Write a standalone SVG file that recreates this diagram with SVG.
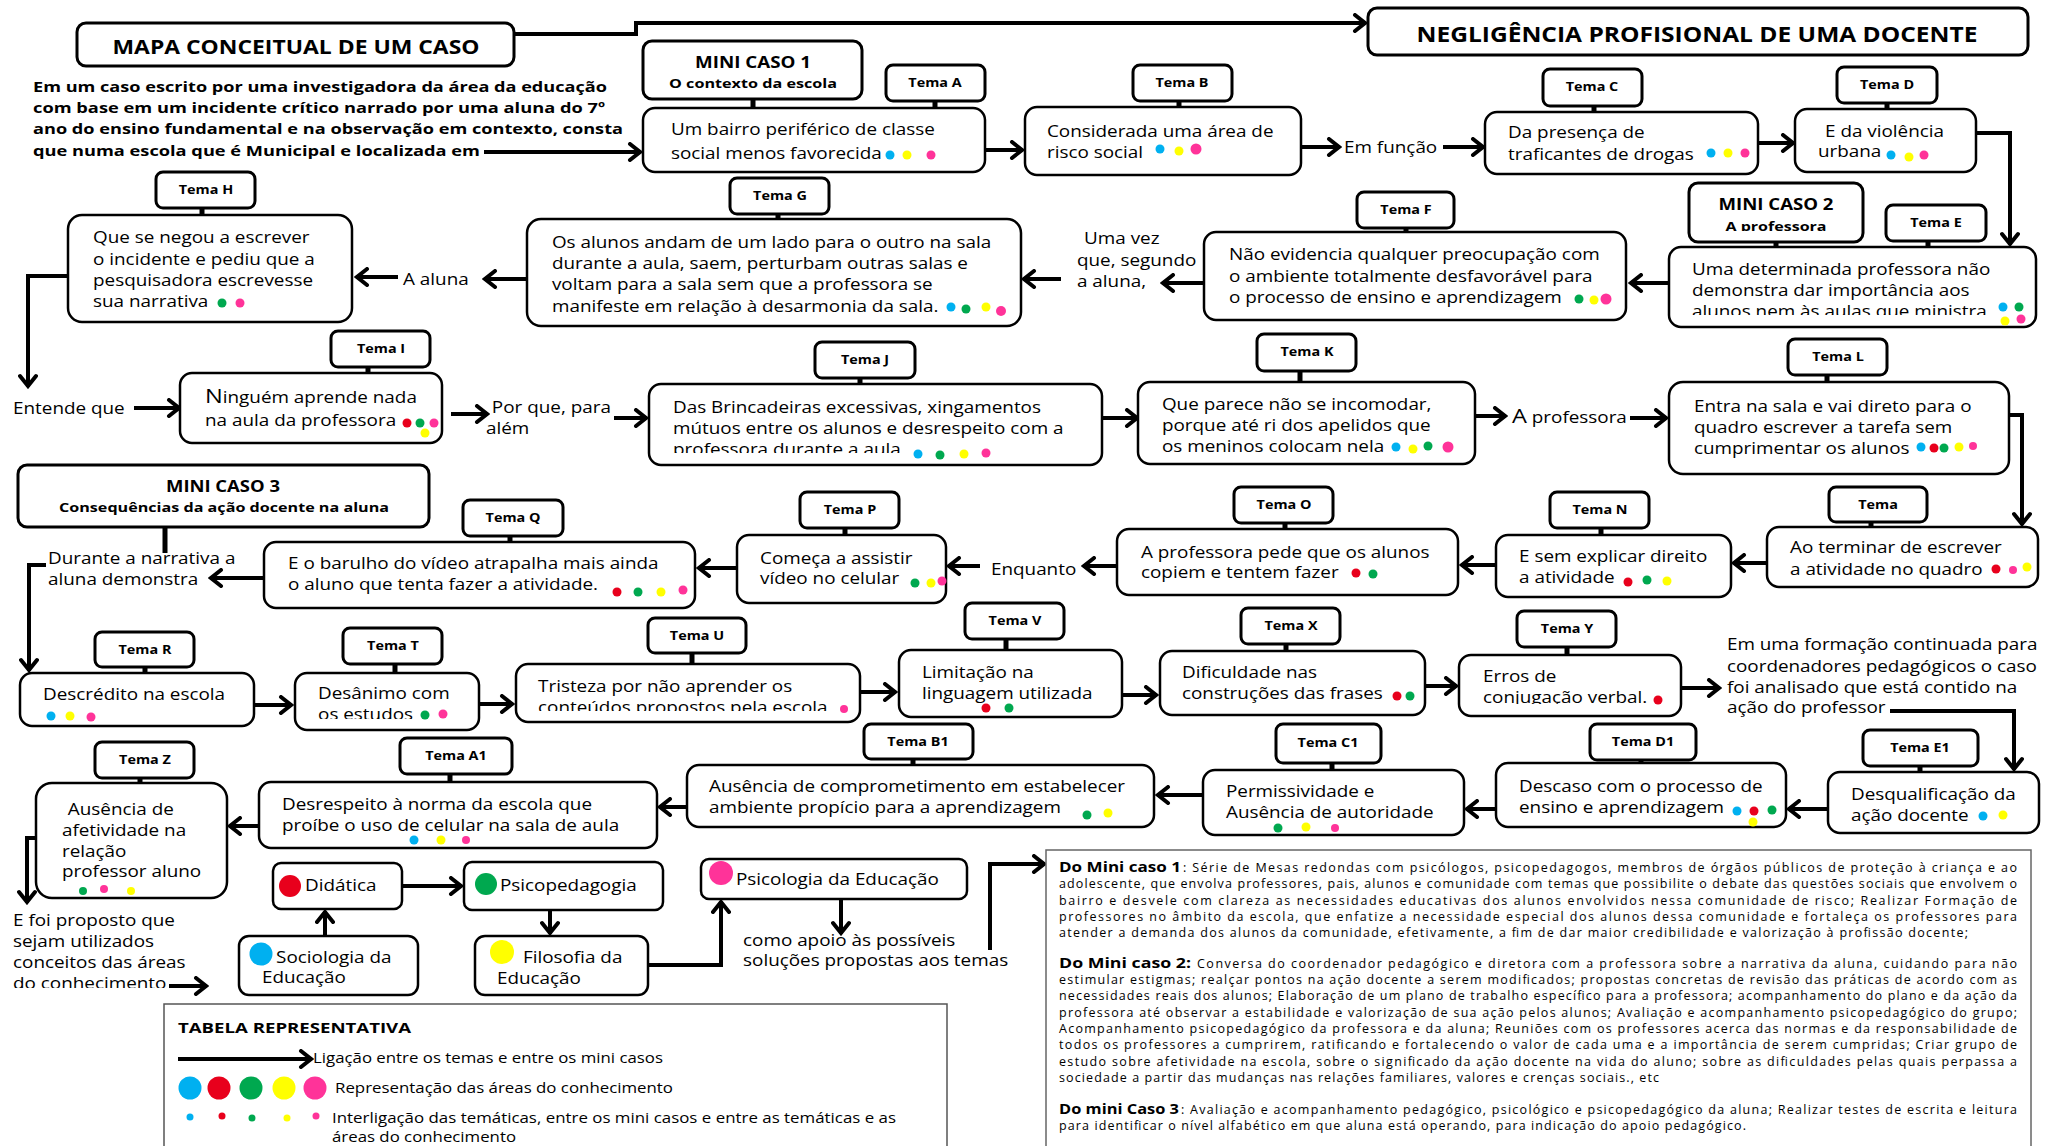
<svg xmlns="http://www.w3.org/2000/svg" width="2056" height="1146" viewBox="0 0 2056 1146">
<style>
text{font-family:"Open Sans","Noto Sans",Lato,sans-serif;fill:#000}
.tx{font-size:16px}
.b{font-weight:bold}
.lt{font-size:12px;font-weight:bold;text-anchor:middle}
.mc{font-size:16.5px;font-weight:bold;text-anchor:middle}
.ms{font-size:13px;font-weight:bold;text-anchor:middle}
.nd{fill:#fff;stroke:#000;stroke-width:2.5}
.lb{fill:#fff;stroke:#000;stroke-width:3}
.ar{fill:#fff;stroke:#000;stroke-width:2.5}
.c{fill:none;stroke:#000;stroke-width:4}
.a{marker-end:url(#ah)}
.s{stroke:#000;stroke-width:5}
.p{font-size:12.5px}
.ph{font-size:15px;font-weight:bold}
.lg{font-size:14px}
.bx{fill:#fff;stroke:#666;stroke-width:1.5}
.bl{fill:#00b0f0}.rd{fill:#e8001c}.gr{fill:#00a84f}.ye{fill:#ffff00}.pk{fill:#ff3399}
</style>
<defs>
<marker id="ah" viewBox="0 0 16 20" refX="14" refY="10" markerWidth="16" markerHeight="20" markerUnits="userSpaceOnUse" orient="auto">
<path d="M3,2 L13,10 L3,18" fill="none" stroke="#000" stroke-width="4" stroke-linecap="round"/>
</marker>
<clipPath id="cE"><rect x="1669" y="247" width="367" height="68"/></clipPath>
<clipPath id="cJ"><rect x="649" y="384" width="453" height="69"/></clipPath>
<clipPath id="cT"><rect x="295" y="673" width="184" height="46"/></clipPath>
<clipPath id="cU"><rect x="516" y="664" width="344" height="47"/></clipPath>
<clipPath id="cY"><rect x="1459" y="655" width="222" height="49"/></clipPath>
<clipPath id="cM2"><rect x="1689" y="183" width="174" height="48"/></clipPath>
<clipPath id="cDo"><rect x="0" y="900" width="200" height="88"/></clipPath>
</defs>
<rect width="2056" height="1146" fill="#fff"/>

<!-- connectors -->
<g id="connectors">
<path class="c a" d="M514,34 H636 V23 H1366"/>
<path class="c a" d="M484,152 H641"/>
<path class="c a" d="M985,150 H1023"/>
<path class="c a" d="M1301,147 H1340"/>
<path class="c a" d="M1443,147 H1484"/>
<path class="c a" d="M1758,143 H1794"/>
<path class="c a" d="M1976,133 H2010 V245"/>
<path class="c a" d="M1669,283 H1630"/>
<path class="c a" d="M1204,283 H1162"/>
<path class="c a" d="M1061,279 H1023"/>
<path class="c a" d="M527,279 H484"/>
<path class="c a" d="M398,277 H356"/>
<path class="c a" d="M68,276 H28 V387"/>
<path class="c a" d="M134,408 H180"/>
<path class="c a" d="M451,414 H488"/>
<path class="c a" d="M614,418 H647"/>
<path class="c a" d="M1102,418 H1138"/>
<path class="c a" d="M1475,416 H1506"/>
<path class="c a" d="M1630,418 H1667"/>
<path class="c a" d="M2009,415 H2022 V525"/>
<path class="c a" d="M1767,563 H1733"/>
<path class="c a" d="M1496,565 H1461"/>
<path class="c a" d="M1117,566 H1083"/>
<path class="c a" d="M980,566 H948"/>
<path class="c a" d="M737,568 H698"/>
<path class="c a" d="M264,578 H210"/>
<path class="c" d="M165,527 V553" style="stroke-width:5"/>
<path class="c a" d="M46,565 H29 V671"/>
<path class="c a" d="M254,705 H292"/>
<path class="c a" d="M479,704 H513"/>
<path class="c a" d="M860,692 H896"/>
<path class="c a" d="M1122,695 H1157"/>
<path class="c a" d="M1425,686 H1457"/>
<path class="c a" d="M1681,688 H1720"/>
<path class="c a" d="M1890,711 H2014 V770"/>
<path class="c a" d="M1828,809 H1788"/>
<path class="c a" d="M1496,809 H1466"/>
<path class="c a" d="M1203,795 H1157"/>
<path class="c a" d="M687,807 H659"/>
<path class="c a" d="M259,826 H229"/>
<path class="c a" d="M36,838 H27 V903"/>
<path class="c a" d="M169,986 H207"/>
<path class="c a" d="M402,886 H462"/>
<path class="c a" d="M550,910 V934"/>
<path class="c a" d="M325,936 V911"/>
<path class="c a" d="M648,965 H721 V901"/>
<path class="c a" d="M841,899 V934"/>
<path class="c a" d="M990,950 V864 H1045"/>
<!-- label stubs -->
<path class="s" d="M753,99 V108 M935,101 V108 M1179,101 V107 M1594,106 V112 M1887,103 V109 M1776,242 V247 M1928,241 V247 M1406,228 V232 M778,214 V219 M202,208 V215 M368,367 V373 M860,378 V384 M1300,371 V382 M1827,375 V382 M1871,522 V527 M1601,528 V535 M1285,523 V529 M845,528 V535 M510,536 V542 M145,667 V673 M395,664 V673 M692,653 V664 M1006,639 V650 M1286,644 V651 M1567,647 V655 M1920,766 V772 M1641,760 V763 M1332,763 V770 M913,759 V765 M450,774 V782 M140,778 V783"/>
</g>

<!-- headings -->
<g id="titulo">
<rect x="77" y="23" width="437" height="43" rx="9" class="lb"/>
<text x="296" y="54" class="b" font-size="20" text-anchor="middle" textLength="367" lengthAdjust="spacingAndGlyphs">MAPA CONCEITUAL DE UM CASO</text>
</g>
<g id="negligencia">
<rect x="1368" y="8" width="660" height="47" rx="9" class="lb"/>
<text x="1697" y="42" class="b" font-size="21" text-anchor="middle" textLength="561" lengthAdjust="spacingAndGlyphs">NEGLIGÊNCIA PROFISIONAL DE UMA DOCENTE</text>
</g>
<g id="introducao">
<text x="33" y="92" class="b" font-size="15" textLength="574" lengthAdjust="spacingAndGlyphs">Em um caso escrito por uma investigadora da área da educação</text>
<text x="33" y="113" class="b" font-size="15" textLength="572" lengthAdjust="spacingAndGlyphs">com base em um incidente crítico narrado por uma aluna do 7º</text>
<text x="33" y="134" class="b" font-size="15" textLength="590" lengthAdjust="spacingAndGlyphs">ano do ensino fundamental e na observação em contexto, consta</text>
<text x="33" y="156" class="b" font-size="15" textLength="447" lengthAdjust="spacingAndGlyphs">que numa escola que é Municipal e localizada em</text>
</g>

<!-- mini casos -->
<g id="mini-caso-1">
<rect x="643" y="41" width="219" height="58" rx="9" class="lb"/>
<text x="753" y="68" class="mc" textLength="116" lengthAdjust="spacingAndGlyphs">MINI CASO 1</text>
<text x="753" y="88" class="ms" textLength="168" lengthAdjust="spacingAndGlyphs">O contexto da escola</text>
</g>
<g id="mini-caso-2">
<rect x="1689" y="183" width="174" height="59" rx="9" class="lb"/>
<text x="1776" y="210" class="mc" textLength="115" lengthAdjust="spacingAndGlyphs">MINI CASO 2</text>
<text x="1776" y="231" class="ms" textLength="101" lengthAdjust="spacingAndGlyphs" clip-path="url(#cM2)">A professora</text>
</g>
<g id="mini-caso-3">
<rect x="18" y="465" width="411" height="62" rx="9" class="lb"/>
<text x="223" y="492" class="mc" textLength="114" lengthAdjust="spacingAndGlyphs">MINI CASO 3</text>
<text x="224" y="512" class="ms" font-size="14" textLength="330" lengthAdjust="spacingAndGlyphs">Consequências da ação docente na aluna</text>
</g>

<!-- tema labels -->
<g id="tema-a"><rect x="886" y="65" width="99" height="36" rx="7" class="lb"/><text x="935" y="87" class="lt" transform="matrix(1.2 0 0 1 -187 0)">Tema A</text></g>
<g id="tema-b"><rect x="1133" y="65" width="99" height="36" rx="7" class="lb"/><text x="1182" y="87" class="lt" transform="matrix(1.2 0 0 1 -236.4 0)">Tema B</text></g>
<g id="tema-c"><rect x="1543" y="69" width="99" height="37" rx="7" class="lb"/><text x="1592" y="91" class="lt" transform="matrix(1.2 0 0 1 -318.4 0)">Tema C</text></g>
<g id="tema-d"><rect x="1837" y="67" width="100" height="36" rx="7" class="lb"/><text x="1887" y="89" class="lt" transform="matrix(1.2 0 0 1 -377.4 0)">Tema D</text></g>
<g id="tema-e"><rect x="1886" y="205" width="100" height="36" rx="7" class="lb"/><text x="1936" y="227" class="lt" transform="matrix(1.2 0 0 1 -387.2 0)">Tema E</text></g>
<g id="tema-f"><rect x="1357" y="192" width="97" height="36" rx="7" class="lb"/><text x="1406" y="214" class="lt" transform="matrix(1.2 0 0 1 -281.2 0)">Tema F</text></g>
<g id="tema-g"><rect x="730" y="178" width="99" height="36" rx="7" class="lb"/><text x="780" y="200" class="lt" transform="matrix(1.2 0 0 1 -156 0)">Tema G</text></g>
<g id="tema-h"><rect x="156" y="172" width="99" height="36" rx="7" class="lb"/><text x="206" y="194" class="lt" transform="matrix(1.2 0 0 1 -41.2 0)">Tema H</text></g>
<g id="tema-i"><rect x="331" y="331" width="99" height="36" rx="7" class="lb"/><text x="381" y="353" class="lt" transform="matrix(1.2 0 0 1 -76.2 0)">Tema I</text></g>
<g id="tema-j"><rect x="815" y="342" width="100" height="36" rx="7" class="lb"/><text x="865" y="364" class="lt" transform="matrix(1.2 0 0 1 -173 0)">Tema J</text></g>
<g id="tema-k"><rect x="1257" y="334" width="99" height="37" rx="7" class="lb"/><text x="1307" y="356" class="lt" transform="matrix(1.2 0 0 1 -261.4 0)">Tema K</text></g>
<g id="tema-l"><rect x="1788" y="339" width="99" height="36" rx="7" class="lb"/><text x="1838" y="361" class="lt" transform="matrix(1.2 0 0 1 -367.6 0)">Tema L</text></g>
<g id="tema-m"><rect x="1829" y="487" width="98" height="35" rx="7" class="lb"/><text x="1878" y="509" class="lt" transform="matrix(1.2 0 0 1 -375.6 0)">Tema</text></g>
<g id="tema-n"><rect x="1550" y="492" width="99" height="36" rx="7" class="lb"/><text x="1600" y="514" class="lt" transform="matrix(1.2 0 0 1 -320 0)">Tema N</text></g>
<g id="tema-o"><rect x="1234" y="487" width="99" height="36" rx="7" class="lb"/><text x="1284" y="509" class="lt" transform="matrix(1.2 0 0 1 -256.8 0)">Tema O</text></g>
<g id="tema-p"><rect x="800" y="492" width="99" height="36" rx="7" class="lb"/><text x="850" y="514" class="lt" transform="matrix(1.2 0 0 1 -170 0)">Tema P</text></g>
<g id="tema-q"><rect x="463" y="500" width="100" height="36" rx="7" class="lb"/><text x="513" y="522" class="lt" transform="matrix(1.2 0 0 1 -102.6 0)">Tema Q</text></g>
<g id="tema-r"><rect x="95" y="632" width="99" height="35" rx="7" class="lb"/><text x="145" y="654" class="lt" transform="matrix(1.2 0 0 1 -29 0)">Tema R</text></g>
<g id="tema-t"><rect x="343" y="628" width="99" height="36" rx="7" class="lb"/><text x="393" y="650" class="lt" transform="matrix(1.2 0 0 1 -78.6 0)">Tema T</text></g>
<g id="tema-u"><rect x="648" y="618" width="98" height="35" rx="7" class="lb"/><text x="697" y="640" class="lt" transform="matrix(1.2 0 0 1 -139.4 0)">Tema U</text></g>
<g id="tema-v"><rect x="965" y="603" width="99" height="36" rx="7" class="lb"/><text x="1015" y="625" class="lt" transform="matrix(1.2 0 0 1 -203 0)">Tema V</text></g>
<g id="tema-x"><rect x="1241" y="608" width="99" height="36" rx="7" class="lb"/><text x="1291" y="630" class="lt" transform="matrix(1.2 0 0 1 -258.2 0)">Tema X</text></g>
<g id="tema-y"><rect x="1517" y="611" width="99" height="36" rx="7" class="lb"/><text x="1567" y="633" class="lt" transform="matrix(1.2 0 0 1 -313.4 0)">Tema Y</text></g>
<g id="tema-e1"><rect x="1863" y="730" width="115" height="36" rx="7" class="lb"/><text x="1920" y="752" class="lt" transform="matrix(1.2 0 0 1 -384 0)">Tema E1</text></g>
<g id="tema-d1"><rect x="1590" y="724" width="106" height="36" rx="7" class="lb"/><text x="1643" y="746" class="lt" transform="matrix(1.2 0 0 1 -328.6 0)">Tema D1</text></g>
<g id="tema-c1"><rect x="1276" y="724" width="105" height="39" rx="7" class="lb"/><text x="1328" y="747" class="lt" transform="matrix(1.2 0 0 1 -265.6 0)">Tema C1</text></g>
<g id="tema-b1"><rect x="864" y="724" width="109" height="35" rx="7" class="lb"/><text x="918" y="746" class="lt" transform="matrix(1.2 0 0 1 -183.6 0)">Tema B1</text></g>
<g id="tema-a1"><rect x="400" y="738" width="112" height="36" rx="7" class="lb"/><text x="456" y="760" class="lt" transform="matrix(1.2 0 0 1 -91.2 0)">Tema A1</text></g>
<g id="tema-z"><rect x="95" y="742" width="99" height="36" rx="7" class="lb"/><text x="145" y="764" class="lt" transform="matrix(1.2 0 0 1 -29 0)">Tema Z</text></g>

<!-- theme nodes (node text is drawn 1.18x wide, anchored at its left edge) -->
<g id="node-a">
<rect x="643" y="108" width="342" height="64" rx="12" class="nd"/>
<text class="tx" transform="matrix(1.18 0 0 1 -120.8 0)"><tspan x="671" y="135">Um bairro periférico de classe</tspan><tspan x="671" y="159">social menos favorecida</tspan></text>
<circle cx="890" cy="155" r="4.5" class="bl"/><circle cx="907" cy="155" r="4.5" class="ye"/><circle cx="931" cy="155" r="4.5" class="pk"/>
</g>
<g id="node-b">
<rect x="1025" y="107" width="276" height="68" rx="12" class="nd"/>
<text class="tx" transform="matrix(1.18 0 0 1 -188.5 0)"><tspan x="1047" y="137">Considerada uma área de</tspan><tspan x="1047" y="158">risco social</tspan></text>
<circle cx="1160" cy="149" r="4.5" class="bl"/><circle cx="1179" cy="151" r="4.5" class="ye"/><circle cx="1196" cy="149" r="5.5" class="pk"/>
</g>
<text x="1344" y="153" class="tx" transform="matrix(1.18 0 0 1 -241.9 0)">Em função</text>
<g id="node-c">
<rect x="1485" y="112" width="273" height="62" rx="12" class="nd"/>
<text class="tx" transform="matrix(1.18 0 0 1 -271.4 0)"><tspan x="1508" y="138">Da presença de</tspan><tspan x="1508" y="160">traficantes de drogas</tspan></text>
<circle cx="1711" cy="153" r="4.5" class="bl"/><circle cx="1728" cy="153" r="4.5" class="ye"/><circle cx="1745" cy="153" r="4.5" class="pk"/>
</g>
<g id="node-d">
<rect x="1795" y="109" width="181" height="63" rx="12" class="nd"/>
<text class="tx" transform="matrix(1.18 0 0 1 -328.5 0)"><tspan x="1825" y="137">E da violência</tspan><tspan x="1819" y="157">urbana</tspan></text>
<circle cx="1891" cy="155" r="4.5" class="bl"/><circle cx="1909" cy="157" r="4.5" class="ye"/><circle cx="1924" cy="155" r="4.5" class="pk"/>
</g>
<g id="node-e">
<rect x="1669" y="247" width="367" height="80" rx="12" class="nd"/>
<text class="tx" clip-path="url(#cE)" transform="matrix(1.18 0 0 1 -304.6 0)"><tspan x="1692" y="275">Uma determinada professora não</tspan><tspan x="1692" y="296">demonstra dar importância aos</tspan><tspan x="1692" y="317">alunos nem às aulas que ministra</tspan></text>
<circle cx="2003" cy="307" r="4.5" class="bl"/><circle cx="2019" cy="307" r="4.5" class="gr"/><circle cx="2005" cy="321" r="4.5" class="ye"/><circle cx="2021" cy="319" r="4.5" class="pk"/>
</g>
<g id="node-f">
<rect x="1204" y="232" width="422" height="88" rx="12" class="nd"/>
<text class="tx" transform="matrix(1.18 0 0 1 -221.2 0)"><tspan x="1229" y="260">Não evidencia qualquer preocupação com</tspan><tspan x="1229" y="282">o ambiente totalmente desfavorável para</tspan><tspan x="1229" y="303">o processo de ensino e aprendizagem</tspan></text>
<circle cx="1579" cy="299" r="4.5" class="gr"/><circle cx="1594" cy="300" r="4.5" class="ye"/><circle cx="1606" cy="299" r="5.5" class="pk"/>
</g>
<text class="tx" transform="matrix(1.18 0 0 1 -193.9 0)"><tspan x="1083" y="244">Uma vez</tspan><tspan x="1077" y="266">que, segundo</tspan><tspan x="1077" y="287">a aluna,</tspan></text>
<g id="node-g">
<rect x="527" y="219" width="494" height="107" rx="14" class="nd"/>
<text class="tx" transform="matrix(1.18 0 0 1 -99.4 0)"><tspan x="552" y="248">Os alunos andam de um lado para o outro na sala</tspan><tspan x="552" y="269">durante a aula, saem, perturbam outras salas e</tspan><tspan x="552" y="290">voltam para a sala sem que a professora se</tspan><tspan x="552" y="312">manifeste em relação à desarmonia da sala.</tspan></text>
<circle cx="951" cy="307" r="4.5" class="bl"/><circle cx="966" cy="309" r="4.5" class="gr"/><circle cx="986" cy="307" r="4.5" class="ye"/><circle cx="1001" cy="311" r="5" class="pk"/>
</g>
<text x="403" y="285" class="tx" transform="matrix(1.18 0 0 1 -72.5 0)">A aluna</text>
<g id="node-h">
<rect x="68" y="215" width="284" height="107" rx="14" class="nd"/>
<text class="tx" transform="matrix(1.18 0 0 1 -16.7 0)"><tspan x="93" y="243">Que se negou a escrever</tspan><tspan x="93" y="265">o incidente e pediu que a</tspan><tspan x="93" y="286">pesquisadora escrevesse</tspan><tspan x="93" y="307">sua narrativa</tspan></text>
<circle cx="222" cy="303" r="4.5" class="gr"/><circle cx="240" cy="303" r="4.5" class="pk"/>
</g>
<text x="13" y="414" class="tx" transform="matrix(1.18 0 0 1 -2.3 0)">Entende que</text>
<g id="node-i">
<rect x="180" y="373" width="262" height="70" rx="12" class="nd"/>
<text class="tx" transform="matrix(1.18 0 0 1 -36.9 0)"><tspan x="205" y="403"><tspan font-size="20">N</tspan>inguém aprende nada</tspan><tspan x="205" y="426">na aula da professora</tspan></text>
<circle cx="407" cy="423" r="4.5" class="rd"/><circle cx="420" cy="423" r="4.5" class="gr"/><circle cx="434" cy="423" r="4.5" class="pk"/><circle cx="425" cy="433" r="4.5" class="ye"/>
</g>
<text class="tx" transform="matrix(1.18 0 0 1 -87.5 0)"><tspan x="491" y="413">Por que, para</tspan><tspan x="486" y="434">além</tspan></text>
<g id="node-j">
<rect x="649" y="384" width="453" height="81" rx="12" class="nd"/>
<text class="tx" clip-path="url(#cJ)" transform="matrix(1.18 0 0 1 -121.1 0)"><tspan x="673" y="413">Das Brincadeiras excessivas, xingamentos</tspan><tspan x="673" y="434">mútuos entre os alunos e desrespeito com a</tspan><tspan x="673" y="455">professora durante a aula</tspan></text>
<circle cx="918" cy="454" r="4.5" class="bl"/><circle cx="940" cy="455" r="4.5" class="gr"/><circle cx="964" cy="454" r="4.5" class="ye"/><circle cx="986" cy="453" r="4.5" class="pk"/>
</g>
<g id="node-k">
<rect x="1138" y="382" width="337" height="82" rx="12" class="nd"/>
<text class="tx" transform="matrix(1.18 0 0 1 -209.2 0)"><tspan x="1162" y="410">Que parece não se incomodar,</tspan><tspan x="1162" y="431">porque até ri dos apelidos que</tspan><tspan x="1162" y="452">os meninos colocam nela</tspan></text>
<circle cx="1396" cy="447" r="4.5" class="bl"/><circle cx="1413" cy="449" r="4.5" class="ye"/><circle cx="1428" cy="446" r="4.5" class="gr"/><circle cx="1448" cy="447" r="5.5" class="pk"/>
</g>
<text x="1512" y="423" class="tx" transform="matrix(1.18 0 0 1 -272.2 0)"><tspan font-size="20">A</tspan> professora</text>
<g id="node-l">
<rect x="1669" y="382" width="340" height="92" rx="14" class="nd"/>
<text class="tx" transform="matrix(1.18 0 0 1 -304.9 0)"><tspan x="1694" y="412">Entra na sala e vai direto para o</tspan><tspan x="1694" y="433">quadro escrever a tarefa sem</tspan><tspan x="1694" y="454">cumprimentar os alunos</tspan></text>
<circle cx="1921" cy="447" r="4.5" class="bl"/><circle cx="1934" cy="448" r="4.5" class="rd"/><circle cx="1944" cy="448" r="4.5" class="gr"/><circle cx="1959" cy="447" r="4.5" class="ye"/><circle cx="1973" cy="446" r="4" class="pk"/>
</g>
<g id="node-m">
<rect x="1767" y="527" width="271" height="60" rx="12" class="nd"/>
<text class="tx" transform="matrix(1.18 0 0 1 -322.2 0)"><tspan x="1790" y="553">Ao terminar de escrever</tspan><tspan x="1790" y="575">a atividade no quadro</tspan></text>
<circle cx="1996" cy="569" r="4.5" class="rd"/><circle cx="2013" cy="570" r="4" class="pk"/><circle cx="2027" cy="567" r="4.5" class="ye"/>
</g>
<g id="node-n">
<rect x="1496" y="535" width="235" height="62" rx="12" class="nd"/>
<text class="tx" transform="matrix(1.18 0 0 1 -273.4 0)"><tspan x="1519" y="562">E sem explicar direito</tspan><tspan x="1519" y="583">a atividade</tspan></text>
<circle cx="1628" cy="582" r="4.5" class="rd"/><circle cx="1647" cy="580" r="4.5" class="gr"/><circle cx="1667" cy="581" r="4.5" class="ye"/>
</g>
<g id="node-o">
<rect x="1117" y="529" width="341" height="66" rx="12" class="nd"/>
<text class="tx" transform="matrix(1.18 0 0 1 -205.4 0)"><tspan x="1141" y="558">A professora pede que os alunos</tspan><tspan x="1141" y="578">copiem e tentem fazer</tspan></text>
<circle cx="1356" cy="573" r="4.5" class="rd"/><circle cx="1373" cy="574" r="4.5" class="gr"/>
</g>
<text x="991" y="575" class="tx" transform="matrix(1.18 0 0 1 -178.4 0)">Enquanto</text>
<g id="node-p">
<rect x="737" y="535" width="209" height="68" rx="12" class="nd"/>
<text class="tx" transform="matrix(1.18 0 0 1 -136.8 0)"><tspan x="760" y="564">Começa a assistir</tspan><tspan x="760" y="584">vídeo no celular</tspan></text>
<circle cx="915" cy="583" r="4.5" class="gr"/><circle cx="931" cy="583" r="4.5" class="ye"/><circle cx="942" cy="581" r="4.5" class="pk"/>
</g>
<g id="node-q">
<rect x="264" y="542" width="431" height="66" rx="12" class="nd"/>
<text class="tx" transform="matrix(1.18 0 0 1 -51.8 0)"><tspan x="288" y="569">E o barulho do vídeo atrapalha mais ainda</tspan><tspan x="288" y="590">o aluno que tenta fazer a atividade.</tspan></text>
<circle cx="617" cy="592" r="4.5" class="rd"/><circle cx="638" cy="592" r="4.5" class="gr"/><circle cx="661" cy="592" r="4.5" class="ye"/><circle cx="683" cy="590" r="4.5" class="pk"/>
</g>
<text class="tx" transform="matrix(1.18 0 0 1 -8.6 0)"><tspan x="48" y="564">Durante a narrativa a</tspan><tspan x="48" y="585">aluna demonstra</tspan></text>
<g id="node-r">
<rect x="20" y="673" width="234" height="53" rx="12" class="nd"/>
<text x="43" y="700" class="tx" transform="matrix(1.18 0 0 1 -7.7 0)">Descrédito na escola</text>
<circle cx="51" cy="716" r="4.5" class="bl"/><circle cx="70" cy="716" r="4.5" class="ye"/><circle cx="91" cy="717" r="4.5" class="pk"/>
</g>
<g id="node-t">
<rect x="295" y="673" width="184" height="57" rx="12" class="nd"/>
<text class="tx" clip-path="url(#cT)" transform="matrix(1.18 0 0 1 -57.2 0)"><tspan x="318" y="699">Desânimo com</tspan><tspan x="318" y="720">os estudos</tspan></text>
<circle cx="425" cy="715" r="4.5" class="gr"/><circle cx="443" cy="714" r="4.5" class="pk"/>
</g>
<g id="node-u">
<rect x="516" y="664" width="344" height="58" rx="12" class="nd"/>
<text class="tx" clip-path="url(#cU)" transform="matrix(1.18 0 0 1 -96.8 0)"><tspan x="538" y="692">Tristeza por não aprender os</tspan><tspan x="538" y="713">conteúdos propostos pela escola</tspan></text>
<circle cx="844" cy="709" r="4" class="pk"/>
</g>
<g id="node-v">
<rect x="899" y="650" width="223" height="67" rx="12" class="nd"/>
<text class="tx" transform="matrix(1.18 0 0 1 -166 0)"><tspan x="922" y="678">Limitação na</tspan><tspan x="922" y="699">linguagem utilizada</tspan></text>
<circle cx="986" cy="708" r="4.5" class="rd"/><circle cx="1009" cy="708" r="4.5" class="gr"/>
</g>
<g id="node-x">
<rect x="1160" y="651" width="265" height="64" rx="12" class="nd"/>
<text class="tx" transform="matrix(1.18 0 0 1 -212.8 0)"><tspan x="1182" y="678">Dificuldade nas</tspan><tspan x="1182" y="699">construções das frases</tspan></text>
<circle cx="1397" cy="696" r="4.5" class="rd"/><circle cx="1410" cy="696" r="4.5" class="gr"/>
</g>
<g id="node-y">
<rect x="1459" y="655" width="222" height="61" rx="12" class="nd"/>
<text class="tx" clip-path="url(#cY)" transform="matrix(1.18 0 0 1 -266.9 0)"><tspan x="1483" y="682">Erros de</tspan><tspan x="1483" y="703">conjugação verbal.</tspan></text>
<circle cx="1658" cy="700" r="4.5" class="rd"/>
</g>
<text class="tx" transform="matrix(1.18 0 0 1 -310.9 0)"><tspan x="1727" y="650">Em uma formação continuada para</tspan><tspan x="1727" y="672">coordenadores pedagógicos o caso</tspan><tspan x="1727" y="693">foi analisado que está contido na</tspan><tspan x="1727" y="713">ação do professor</tspan></text>
<g id="node-e1">
<rect x="1828" y="772" width="211" height="61" rx="12" class="nd"/>
<text class="tx" transform="matrix(1.18 0 0 1 -333.2 0)"><tspan x="1851" y="800">Desqualificação da</tspan><tspan x="1851" y="821">ação docente</tspan></text>
<circle cx="1983" cy="816" r="4.5" class="bl"/><circle cx="2003" cy="815" r="4.5" class="ye"/>
</g>
<g id="node-d1">
<rect x="1496" y="763" width="290" height="64" rx="12" class="nd"/>
<text class="tx" transform="matrix(1.18 0 0 1 -273.4 0)"><tspan x="1519" y="792">Descaso com o processo de</tspan><tspan x="1519" y="813">ensino e aprendizagem</tspan></text>
<circle cx="1737" cy="811" r="4.5" class="bl"/><circle cx="1754" cy="811" r="4.5" class="rd"/><circle cx="1772" cy="810" r="4.5" class="gr"/><circle cx="1753" cy="822" r="4.5" class="ye"/>
</g>
<g id="node-c1">
<rect x="1203" y="770" width="261" height="65" rx="12" class="nd"/>
<text class="tx" transform="matrix(1.18 0 0 1 -220.7 0)"><tspan x="1226" y="797">Permissividade e</tspan><tspan x="1226" y="818">Ausência de autoridade</tspan></text>
<circle cx="1278" cy="828" r="4.5" class="gr"/><circle cx="1306" cy="827" r="4.5" class="ye"/><circle cx="1335" cy="828" r="4" class="pk"/>
</g>
<g id="node-b1">
<rect x="687" y="765" width="467" height="62" rx="12" class="nd"/>
<text class="tx" transform="matrix(1.18 0 0 1 -127.6 0)"><tspan x="709" y="792">Ausência de comprometimento em estabelecer</tspan><tspan x="709" y="813">ambiente propício para a aprendizagem</tspan></text>
<circle cx="1087" cy="815" r="4.5" class="gr"/><circle cx="1108" cy="813" r="4.5" class="ye"/>
</g>
<g id="node-a1">
<rect x="259" y="782" width="398" height="66" rx="12" class="nd"/>
<text class="tx" transform="matrix(1.18 0 0 1 -50.8 0)"><tspan x="282" y="810">Desrespeito à norma da escola que</tspan><tspan x="282" y="831">proíbe o uso de celular na sala de aula</tspan></text>
<circle cx="414" cy="840" r="4.5" class="bl"/><circle cx="441" cy="840" r="4.5" class="ye"/><circle cx="466" cy="840" r="4" class="pk"/>
</g>
<g id="node-z">
<rect x="36" y="783" width="191" height="115" rx="16" class="nd"/>
<text class="tx" transform="matrix(1.18 0 0 1 -11.2 0)"><tspan x="67" y="815">Ausência de</tspan><tspan x="62" y="836">afetividade na</tspan><tspan x="62" y="857">relação</tspan><tspan x="62" y="877">professor aluno</tspan></text>
<circle cx="83" cy="891" r="4" class="gr"/><circle cx="104" cy="889" r="4" class="pk"/><circle cx="131" cy="891" r="4" class="ye"/>
</g>
<text class="tx" clip-path="url(#cDo)" transform="matrix(1.18 0 0 1 -2.3 0)"><tspan x="13" y="926">E foi proposto que</tspan><tspan x="13" y="947">sejam utilizados</tspan><tspan x="13" y="968">conceitos das áreas</tspan><tspan x="13" y="989">do conhecimento</tspan></text>

<!-- knowledge areas -->
<g id="area-didatica">
<rect x="273" y="863" width="129" height="46" rx="8" class="ar"/>
<circle cx="290" cy="886" r="11" class="rd"/>
<text x="305" y="891" class="tx" transform="matrix(1.18 0 0 1 -54.9 0)">Didática</text>
</g>
<g id="area-psicopedagogia">
<rect x="464" y="862" width="199" height="48" rx="8" class="ar"/>
<circle cx="486" cy="884" r="11" class="gr"/>
<text x="500" y="891" class="tx" transform="matrix(1.18 0 0 1 -90 0)">Psicopedagogia</text>
</g>
<g id="area-sociologia">
<rect x="239" y="936" width="179" height="59" rx="10" class="ar"/>
<circle cx="261" cy="954" r="11.5" class="bl"/>
<text class="tx" transform="matrix(1.18 0 0 1 -47.2 0)"><tspan x="274" y="963">Sociologia da</tspan><tspan x="262" y="983">Educação</tspan></text>
</g>
<g id="area-filosofia">
<rect x="475" y="936" width="173" height="59" rx="10" class="ar"/>
<circle cx="502" cy="952" r="12" class="ye"/>
<text class="tx" transform="matrix(1.18 0 0 1 -89.5 0)"><tspan x="519" y="963">Filosofia da</tspan><tspan x="497" y="984">Educação</tspan></text>
</g>
<g id="area-psicologia">
<rect x="701" y="859" width="266" height="40" rx="8" class="ar"/>
<circle cx="721" cy="873" r="12" class="pk"/>
<text x="736" y="885" class="tx" transform="matrix(1.18 0 0 1 -132.5 0)">Psicologia da Educação</text>
</g>
<text class="tx" transform="matrix(1.18 0 0 1 -133.7 0)"><tspan x="743" y="946">como apoio às  possíveis</tspan><tspan x="743" y="966">soluções propostas aos temas</tspan></text>

<!-- proposals -->
<g id="propostas">
<rect x="1046" y="850" width="985" height="310" class="bx"/>
<text x="1059" y="872" class="ph" textLength="122" lengthAdjust="spacingAndGlyphs">Do Mini caso 1</text>
<text x="1183" y="872" class="p" textLength="834" lengthAdjust="spacing">: Série de Mesas redondas com psicólogos, psicopedagogos, membros de órgãos públicos de proteção à criança e ao</text>
<text x="1059" y="888" class="p" textLength="958" lengthAdjust="spacing">adolescente, que envolva professores, pais, alunos e comunidade com temas que possibilite o debate das questões sociais que envolvem o</text>
<text x="1059" y="905" class="p" textLength="958" lengthAdjust="spacing">bairro e desvele com clareza as necessidades educativas dos alunos envolvidos nessa comunidade de risco; Realizar Formação de</text>
<text x="1059" y="921" class="p" textLength="958" lengthAdjust="spacing">professores no âmbito da escola, que enfatize a necessidade especial dos alunos dessa comunidade e fortaleça os professores para</text>
<text x="1059" y="937" class="p" textLength="909" lengthAdjust="spacing">atender a demanda dos alunos da comunidade, efetivamente, a fim de dar maior credibilidade e valorização à profissão docente;</text>
<text x="1059" y="968" class="ph" textLength="132" lengthAdjust="spacingAndGlyphs">Do Mini caso 2:</text>
<text x="1197" y="968" class="p" textLength="820" lengthAdjust="spacing">Conversa do coordenador pedagógico e diretora com a professora sobre a narrativa da aluna, cuidando para não</text>
<text x="1059" y="984" class="p" textLength="958" lengthAdjust="spacing">estimular estigmas; realçar pontos na ação docente a serem modificados; propostas concretas de revisão das práticas de acordo com as</text>
<text x="1059" y="1000" class="p" textLength="958" lengthAdjust="spacing">necessidades reais dos alunos; Elaboração de um plano de trabalho específico para a professora; acompanhamento do plano e da ação da</text>
<text x="1059" y="1017" class="p" textLength="958" lengthAdjust="spacing">professora até observar a estabilidade e valorização de sua ação pelos alunos; Avaliação e acompanhamento psicopedagógico do grupo;</text>
<text x="1059" y="1033" class="p" textLength="958" lengthAdjust="spacing">Acompanhamento psicopedagógico da professora e da aluna; Reuniões com os professores acerca das normas e da responsabilidade de</text>
<text x="1059" y="1049" class="p" textLength="958" lengthAdjust="spacing">todos os professores a cumprirem, ratificando e fortalecendo o valor de cada uma e a importância de serem cumpridas; Criar grupo de</text>
<text x="1059" y="1066" class="p" textLength="958" lengthAdjust="spacing">estudo sobre afetividade na escola, sobre o significado da ação docente na vida do aluno; sobre as dificuldades pelas quais perpassa a</text>
<text x="1059" y="1082" class="p" textLength="600" lengthAdjust="spacing">sociedade  a partir das mudanças nas relações familiares, valores e crenças sociais., etc</text>
<text x="1059" y="1114" class="ph" textLength="120" lengthAdjust="spacingAndGlyphs">Do mini Caso 3</text>
<text x="1181" y="1114" class="p" textLength="836" lengthAdjust="spacing">: Avaliação e acompanhamento pedagógico, psicológico e psicopedagógico da aluna; Realizar testes de escrita e leitura</text>
<text x="1059" y="1130" class="p" textLength="687" lengthAdjust="spacing">para identificar o nível alfabético em que aluna está operando, para indicação do apoio pedagógico.</text>
</g>

<!-- legend -->
<g id="tabela">
<rect x="164" y="1004" width="783" height="160" class="bx" style="stroke:#555"/>
<text x="178" y="1033" class="b" font-size="15" textLength="233" lengthAdjust="spacingAndGlyphs">TABELA REPRESENTATIVA</text>
<path class="c a" d="M178,1059 H312"/>
<text x="313" y="1063" class="lg" textLength="350" lengthAdjust="spacingAndGlyphs">Ligação entre os temas e entre os mini casos</text>
<circle cx="190" cy="1088" r="11.5" class="bl"/><circle cx="219" cy="1088" r="11.5" class="rd"/><circle cx="251" cy="1088" r="11.5" class="gr"/><circle cx="284" cy="1088" r="11.5" class="ye"/><circle cx="315" cy="1088" r="11.5" class="pk"/>
<text x="335" y="1093" class="lg" textLength="338" lengthAdjust="spacingAndGlyphs">Representação das áreas do conhecimento</text>
<circle cx="190" cy="1117" r="3.5" class="bl"/><circle cx="222" cy="1116" r="3.5" class="rd"/><circle cx="252" cy="1118" r="3.5" class="gr"/><circle cx="287" cy="1118" r="3.5" class="ye"/><circle cx="316" cy="1116" r="3.5" class="pk"/>
<text x="332" y="1123" class="lg" textLength="564" lengthAdjust="spacingAndGlyphs">Interligação das temáticas, entre os mini casos e entre as temáticas e as</text>
<text x="332" y="1142" class="lg" textLength="184" lengthAdjust="spacingAndGlyphs">áreas do conhecimento</text>
</g>
</svg>
